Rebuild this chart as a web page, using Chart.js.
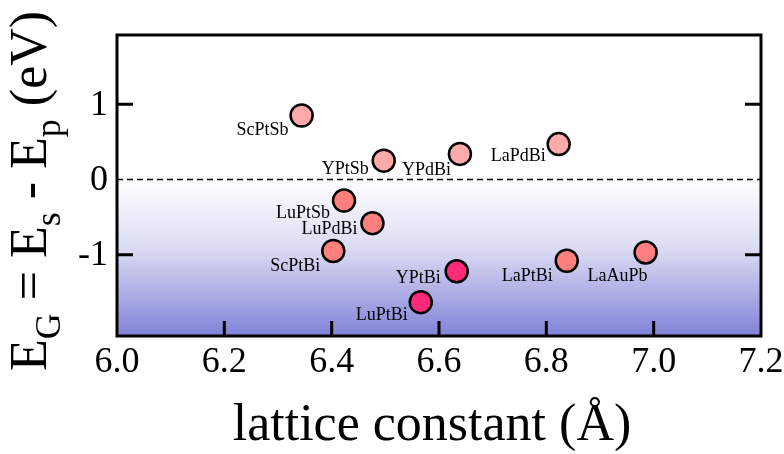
<!DOCTYPE html>
<html>
<head>
<meta charset="utf-8">
<script src="https://cdn.jsdelivr.net/npm/chart.js@4.4.0/dist/chart.umd.min.js"></script>
<style>
  html, body { margin: 0; padding: 0; background: #fff; }
</style>
</head>
<body>
<canvas id="chart" width="784" height="454"></canvas>
<script>
// half-Heusler compounds: lattice constant vs. s-p gap
const compounds = ["ScPtSb", "YPtSb", "YPdBi", "LaPdBi", "LuPtSb", "LuPdBi", "ScPtBi", "YPtBi", "LuPtBi", "LaPtBi", "LaAuPb"];
const latticeA = [6.344, 6.497, 6.639, 6.823, 6.423, 6.476, 6.403, 6.633, 6.566, 6.838, 6.985];
const gapEV = [0.85, 0.25, 0.34, 0.47, -0.28, -0.58, -0.95, -1.22, -1.63, -1.08, -0.97];
const phase = ["normal", "normal", "normal", "normal", "inverted", "inverted", "inverted", "topological", "topological", "inverted", "inverted"];
const xTicks = [6.0, 6.2, 6.4, 6.6, 6.8, 7.0, 7.2];
const yTicks = [-1, 0, 1];

const SERIF = "'Liberation Serif', 'Times New Roman', serif";
const PHASE_COLORS = { normal: "#ffaaaa", inverted: "#ff7f7f", topological: "#ff2a7a" };

// label anchor relative to the marker centre: [dx, dy, align]
const LABEL_PLACE = {
  ScPtSb: [-13, 15, "right"],
  YPtSb: [-15, 9, "right"],
  YPdBi: [-9, 16, "right"],
  LaPdBi: [-13, 12, "right"],
  LuPtSb: [-14, 13, "right"],
  LuPdBi: [-15, 6, "right"],
  ScPtBi: [-13, 15, "right"],
  YPtBi: [-16, 7, "right"],
  LuPtBi: [-13, 13, "right"],
  LaPtBi: [-14, 16, "right"],
  LaAuPb: [-28, 24, "center"],
};

const framePlugin = {
  id: "frame",
  beforeDatasetsDraw(chart) {
    const { ctx, chartArea: a, scales } = chart;
    const y0 = scales.y.getPixelForValue(0);
    // shaded region below the zero line
    const g = ctx.createLinearGradient(0, y0, 0, a.bottom);
    g.addColorStop(0, "#ffffff");
    g.addColorStop(0.45, "#dadaf3");
    g.addColorStop(1, "#8282d9");
    ctx.save();
    ctx.fillStyle = g;
    ctx.fillRect(a.left, y0, a.right - a.left, a.bottom - y0);
    // dashed zero line
    ctx.strokeStyle = "#000";
    ctx.lineWidth = 1.6;
    ctx.setLineDash([6, 4]);
    ctx.beginPath();
    ctx.moveTo(a.left, y0);
    ctx.lineTo(a.right, y0);
    ctx.stroke();
    ctx.restore();
  },
  afterDatasetsDraw(chart) {
    const { ctx, chartArea: a, scales } = chart;
    const meta = chart.getDatasetMeta(0);
    ctx.save();
    // compound names
    ctx.font = "18px " + SERIF;
    ctx.fillStyle = "#000";
    ctx.textBaseline = "middle";
    meta.data.forEach((pt, i) => {
      const [dx, dy, align] = LABEL_PLACE[compounds[i]];
      ctx.textAlign = align;
      ctx.fillText(compounds[i], pt.x + dx, pt.y + dy);
    });
    // inward tick marks
    ctx.strokeStyle = "#000";
    ctx.lineWidth = 3;
    ctx.beginPath();
    xTicks.slice(1, -1).forEach(v => {
      const x = scales.x.getPixelForValue(v);
      ctx.moveTo(x, a.bottom);
      ctx.lineTo(x, a.bottom - 15);
    });
    [-1, 1].forEach(v => {
      const y = scales.y.getPixelForValue(v);
      ctx.moveTo(a.left, y);
      ctx.lineTo(a.left + 16, y);
      ctx.moveTo(a.right, y);
      ctx.lineTo(a.right - 16, y);
    });
    ctx.stroke();
    // frame
    ctx.lineWidth = 3;
    ctx.strokeRect(a.left, a.top, a.right - a.left, a.bottom - a.top);

    // tick labels
    ctx.font = "36px " + SERIF;
    ctx.textAlign = "center";
    ctx.textBaseline = "top";
    xTicks.forEach(v => {
      ctx.fillText(v.toFixed(1), scales.x.getPixelForValue(v), a.bottom + 9);
    });
    ctx.textAlign = "right";
    ctx.textBaseline = "middle";
    yTicks.forEach(v => {
      ctx.fillText(String(v), a.left - 9, scales.y.getPixelForValue(v) + 1);
    });
    ctx.restore();
  },
  afterDraw(chart) {
    const { ctx } = chart;
    ctx.save();
    ctx.fillStyle = "#000";
    // x-axis title
    ctx.font = "52px " + SERIF;
    ctx.textAlign = "center";
    ctx.textBaseline = "alphabetic";
    ctx.fillText("lattice constant (\u00c5)", 432, 440);
    // y-axis title with subscripts, rotated
    const parts = [
      ["E", 0], ["G", 1], [" = E", 0], ["s", 1], [" - E", 0], ["p", 1], [" (eV)", 0],
    ];
    const big = "52px " + SERIF, small = "36px " + SERIF;
    let total = 0;
    parts.forEach(([t, sub]) => { ctx.font = sub ? small : big; total += ctx.measureText(t).width; });
    ctx.translate(46, 191);
    ctx.rotate(-Math.PI / 2);
    ctx.textAlign = "left";
    let x = -total / 2;
    parts.forEach(([t, sub]) => {
      ctx.font = sub ? small : big;
      ctx.fillText(t, x, sub ? 14 : 0);
      x += ctx.measureText(t).width;
    });
    ctx.restore();
  },
};

new Chart(document.getElementById("chart"), {
  type: "scatter",
  data: {
    datasets: [{
      data: latticeA.map((x, i) => ({ x, y: gapEV[i] })),
      backgroundColor: phase.map(p => PHASE_COLORS[p]),
      borderColor: "#000",
      borderWidth: 2.5,
      pointRadius: 11,
      pointHoverRadius: 11,
    }],
  },
  options: {
    responsive: false,
    animation: false,
    layout: { padding: { top: 35, right: 23, left: 0, bottom: 0 } },
    plugins: { legend: { display: false }, tooltip: { enabled: false } },
    scales: {
      x: {
        type: "linear",
        min: 6.0,
        max: 7.2,
        afterBuildTicks: s => { s.ticks = xTicks.map(v => ({ value: v })); },
        afterFit: s => { s.height = 118; },
        ticks: { display: false },
        grid: { display: false, drawTicks: false },
        border: { display: false },
      },
      y: {
        min: -2.08,
        max: 1.92,
        afterBuildTicks: s => { s.ticks = yTicks.map(v => ({ value: v })); },
        afterFit: s => { s.width = 117; },
        ticks: { display: false },
        grid: { display: false, drawTicks: false },
        border: { display: false },
      },
    },
  },
  plugins: [framePlugin],
});
</script>
</body>
</html>
